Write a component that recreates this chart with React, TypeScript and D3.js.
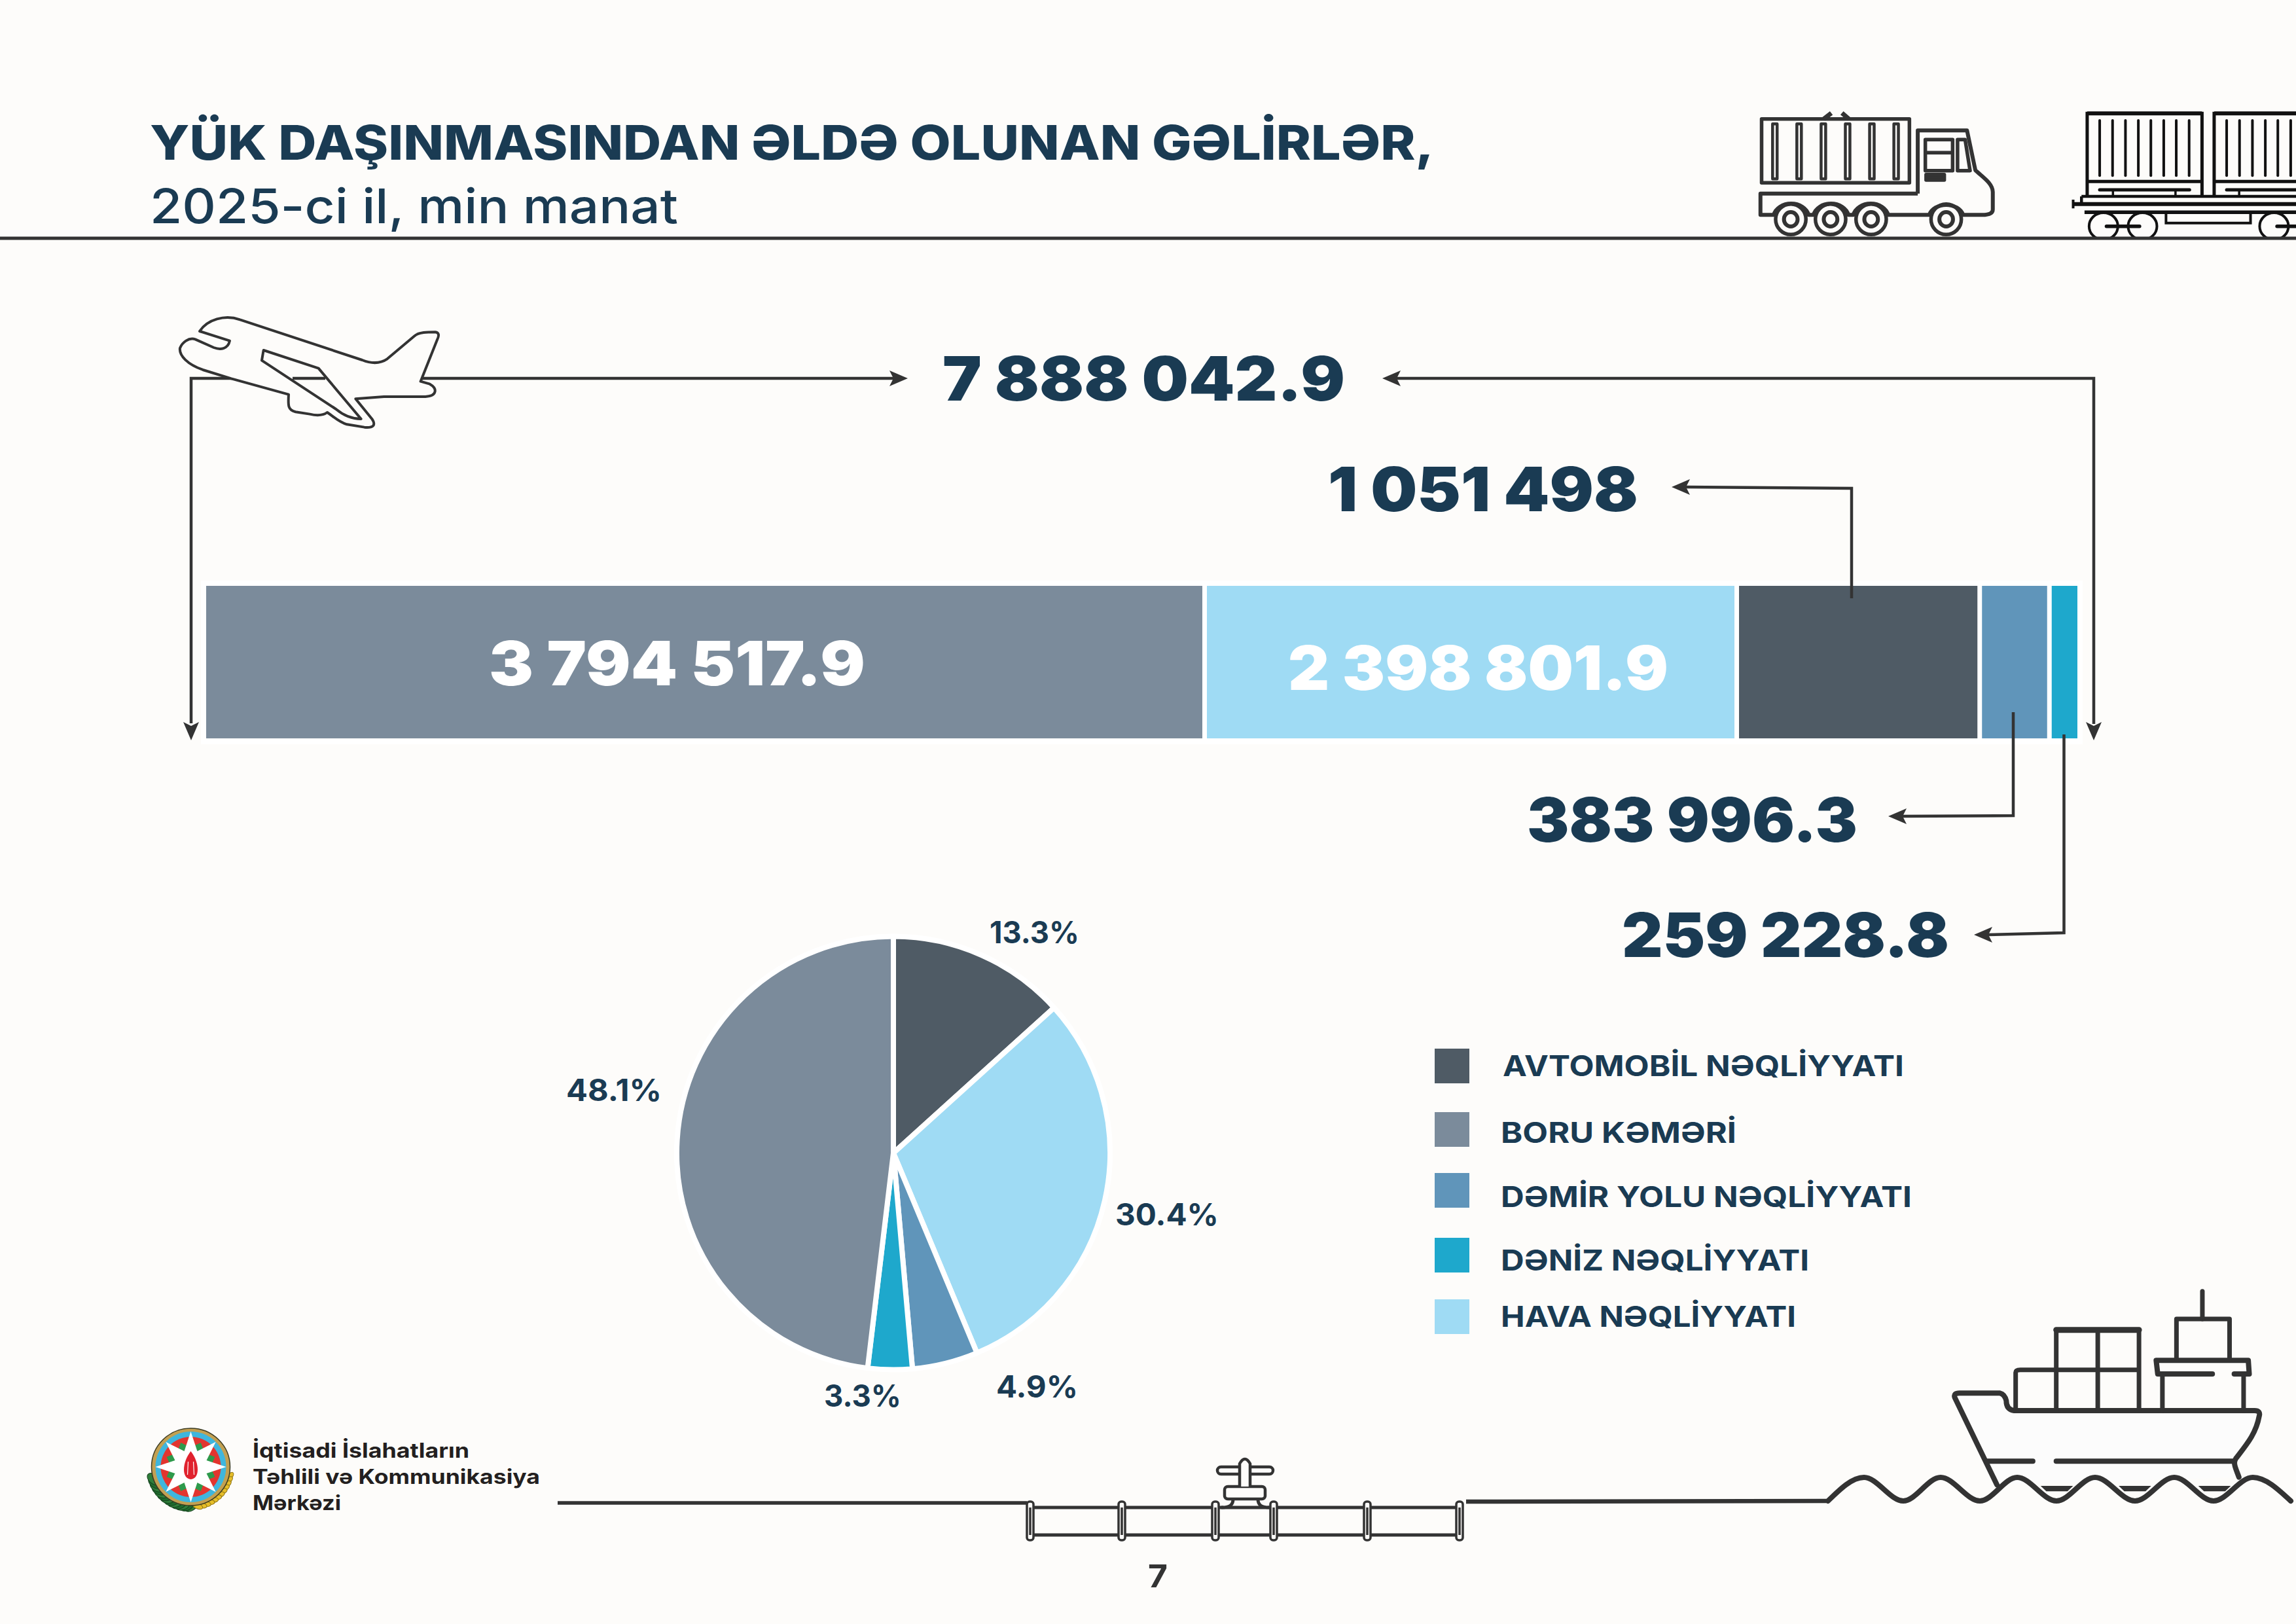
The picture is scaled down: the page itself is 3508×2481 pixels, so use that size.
import React from "react";
import * as d3 from "d3";

const categories = ["AVTOMOBİL NƏQLİYYATI", "BORU KƏMƏRİ", "DƏMİR YOLU NƏQLİYYATI", "DƏNİZ NƏQLİYYATI", "HAVA NƏQLİYYATI"];
const revenues = [1051498, 3794517.9, 383996.3, 259228.8, 2398801.9];
const shares = [13.3, 48.1, 4.9, 3.3, 30.4];
const colours = ["#4F5B65", "#7B8B9B", "#6095BA", "#1EA8CC", "#9FDBF4"];
const pieOrder = [0, 4, 2, 3, 1];
const totalRevenue = 7888042.9;
const titleLines = ["YÜK DAŞINMASINDAN ƏLDƏ OLUNAN GƏLİRLƏR,", "2025-ci il, min manat"];
const orgLines = ["İqtisadi İslahatların", "Təhlili və Kommunikasiya", "Mərkəzi"];
const pageNumber = "7";

const BG = "#FDFCFA";
const NAVY = "#1A3B53";
const INK = "#333333";
const FONT = "Inter, 'Noto Sans', sans-serif";

const fmtLocale = d3.formatLocale({ decimal: ".", thousands: " ", grouping: [3], currency: ["", ""] });
const fmtNum = fmtLocale.format(",.1~f");

// bar layout (the reference's bar is hand-drawn, its segments are not strictly proportional)
const barOrder = d3.range(revenues.length).sort((a, b) => revenues[b] - revenues[a]);
const cumulative = [0, ...d3.cumsum(barOrder.map((i) => revenues[i]))];
const barX = d3.scaleLinear().domain(cumulative).range([315, 1840.5, 2653.5, 3024.75, 3131.25, 3174]);
const barY = d3.scaleBand().domain(["bar"]).range([895, 1128]);

const barLabelLayout = {
  1: { x: 747, w: 575, y: 1047, fill: "#FFFFFF" },
  4: { x: 1968, w: 581, y: 1054, fill: "#FFFFFF" },
  0: { x: 2029, w: 474, y: 781, fill: NAVY },
  2: { x: 2333, w: 505, y: 1286, fill: NAVY },
  3: { x: 2478, w: 500, y: 1462, fill: NAVY },
};
const pieLabelLayout = {
  0: { x: 1512, w: 137, y: 1441 },
  1: { x: 865, w: 146, y: 1682 },
  2: { x: 1522, w: 125, y: 2135 },
  3: { x: 1259, w: 118, y: 2149 },
  4: { x: 1704, w: 158, y: 1872 },
};
const legendLayout = [
  { top: 1602, base: 1644, left: 2296, right: 2909 },
  { top: 1699, base: 1746, left: 2293, right: 2653 },
  { top: 1792, base: 1844, left: 2293, right: 2921 },
  { top: 1891, base: 1941, left: 2293, right: 2764 },
  { top: 1985, base: 2027, left: 2293, right: 2744 },
];

const T = ({ x, y, w, size, weight = 700, fill = NAVY, children }: any) => (
  <text x={x} y={y} textLength={w} lengthAdjust="spacingAndGlyphs" fontFamily={FONT} fontSize={size} fontWeight={weight} fill={fill}>
    {children}
  </text>
);

const ARROW_ROT: any = { left: 0, down: -90, right: 180 };
const Arrow = ({ x, y, dir }: any) => (
  <path transform={`translate(${x},${y}) rotate(${ARROW_ROT[dir]})`} d="M0 0 L28 -12 L22 0 L28 12 Z" fill={INK} />
);

const Plane = () => (
  <g transform="translate(220,450) scale(0.3333)" fill={BG} stroke={INK} strokeWidth={12} strokeLinejoin="round">
    <path d="M255 168 C290 115 370 90 440 115 L1000 300 C1050 320 1090 312 1115 295 L1240 190 C1260 172 1300 172 1335 172 C1355 175 1352 190 1345 205 L1268 398 L1310 410 C1345 430 1345 465 1290 468 L1100 468 L970 478 L1045 570 C1065 600 1050 612 1010 608 L930 595 C895 585 870 560 840 540 C820 555 790 555 760 548 L695 538 C660 530 660 510 663 458 L400 385 L270 345 C200 320 160 280 165 245 C175 220 205 195 235 205 L320 243 C350 255 385 250 393 212 Z" />
    <path d="M548 255 L800 338 L995 570 C950 570 910 550 880 525 L540 302 Z" fill="none" />
  </g>
);

const NS = { vectorEffect: "non-scaling-stroke" } as any;

const truckWheels = [235, 340, 447, 645];
const truckSlats = [193, 257, 321, 385, 449, 513];
const Truck = () => (
  <g transform="translate(2600,130) scale(0.5791,0.3333)" fill="none" stroke={INK} strokeWidth={5.5} strokeLinejoin="round">
    <rect x={158} y={155} width={390} height={293} {...NS} />
    {truckSlats.map((x) => (
      <rect key={x} x={x - 6} y={178} width={12} height={252} strokeWidth={4.5} {...NS} />
    ))}
    <path d="M322 155 L342 128 M388 155 L370 128" strokeWidth={7} {...NS} />
    <path d="M570 497 L570 208 L700 208 L722 390 C740 420 768 450 768 490 L768 570 C768 590 755 595 740 595 L690 595 A47 65 0 0 0 600 595 L492 595 A47 65 0 0 0 400 595 L387 595 A47 65 0 0 0 295 595 L282 595 A47 65 0 0 0 190 595 L155 595 L155 497 L570 497" strokeWidth={6} {...NS} />
    <rect x={590} y={250} width={72} height={142} {...NS} />
    <path d="M590 310 L662 310" {...NS} />
    <path d="M675 250 L695 250 L708 392 L675 392 Z" {...NS} />
    <rect x={592} y={410} width={48} height={25} fill={INK} {...NS} />
    {truckWheels.map((x) => (
      <g key={x}>
        <ellipse cx={x} cy={615} rx={40} ry={70} {...NS} />
        <ellipse cx={x} cy={615} rx={18} ry={33} strokeWidth={6} {...NS} />
      </g>
    ))}
  </g>
);

const trainSlatsA = [1050, 1084, 1118, 1152, 1185, 1219, 1252, 1286];
const trainSlatsB = [1385, 1419, 1453, 1487, 1520, 1554];
const Train = () => (
  <g clipPath="url(#trainClip)">
    <g transform="translate(2600,130) scale(0.5791,0.3333)" fill="none" stroke="#111111" strokeWidth={5}>
      <path d="M1017 510 L1017 130 L1320 130 L1320 510 M1352 510 L1352 130 L1600 130" {...NS} />
      <path d="M1017 130 L1320 130 M1352 130 L1600 130" strokeWidth={6} {...NS} />
      <path d="M1017 442 L1320 442 M1352 442 L1600 442" {...NS} />
      {[...trainSlatsA, ...trainSlatsB].map((x) => (
        <path key={x} d={`M${x} 162 L${x} 415`} strokeWidth={4} strokeLinecap="round" {...NS} />
      ))}
      <path d="M1050 480 L1287 480 M1385 480 L1600 480" strokeWidth={5} strokeLinecap="round" {...NS} />
      <path d="M1085 480 L1085 510 M1250 480 L1250 510 M1418 480 L1418 510" strokeWidth={3.5} {...NS} />
      <path d="M1002 510 L1600 510 M1002 510 L1002 545" strokeWidth={4.5} {...NS} />
      <path d="M980 545 L1600 545" strokeWidth={6} {...NS} />
      <path d="M980 525 L980 565" strokeWidth={4} {...NS} />
      <path d="M1010 583 L1600 583" strokeWidth={5.5} {...NS} />
      <path d="M1225 590 L1225 632 L1448 632 L1448 590" strokeWidth={4} {...NS} />
      {[1060, 1163, 1510].map((x) => (
        <ellipse key={x} cx={x} cy={647} rx={38} ry={62} strokeWidth={4} {...NS} />
      ))}
      <path d="M1068 647 L1155 647 M1518 647 L1600 647" strokeWidth={5.5} strokeLinecap="round" {...NS} />
    </g>
  </g>
);

const Ship = () => (
  <g transform="translate(2760,1940) scale(0.4771,0.3333)" fill="none" stroke={INK} strokeWidth={8} strokeLinejoin="round" strokeLinecap="round">
    <path d="M610 985 L475 585 Q470 565 490 565 L620 565 Q635 570 640 600 Q640 640 665 645 L1435 645 Q1455 645 1450 670 C1440 750 1410 800 1375 865 C1365 885 1375 910 1385 950" fill="#FCFCFC" {...NS} />
    <path d="M580 877 L725 877 M800 877 L1370 877" {...NS} />
    <path d="M670 645 L670 470 Q670 458 685 458 L1065 458 M800 645 L800 275 M933 645 L933 275 M1065 645 L1065 275" strokeWidth={7} strokeLinecap="butt" {...NS} />
    <path d="M800 275 L1065 275" strokeWidth={9} {...NS} />
    <path d="M1140 645 L1140 480 M1400 645 L1400 480" strokeWidth={7} {...NS} />
    <path d="M1300 477 L1125 477 L1120 415 L1415 415 L1418 477 L1370 477" strokeWidth={8} {...NS} />
    <path d="M1185 410 L1185 225 L1355 225 L1355 410" strokeWidth={7} {...NS} />
    <path d="M1268 225 L1268 98" strokeWidth={7} {...NS} />
    {[750, 1000, 1255].map((x) => (
      <path key={x} d={`M${x} 990 L${x + 104} 990 L${x + 86} 1015 L${x + 18} 1015 Z`} fill={INK} stroke="none" />
    ))}
  </g>
);

const waveX = [2793, 2848, 2908, 2965, 3025, 3082, 3142, 3201, 3262, 3322, 3382, 3442, 3500];
const waveY = [2293, 2257, 2293, 2257, 2293, 2257, 2293, 2257, 2293, 2257, 2293, 2257, 2293];
const waveLine = d3.line<number>().x((d) => d).y((_, i) => waveY[i]).curve(d3.curveMonotoneX);

const flanges = [1574, 1714, 1857, 1946, 2089, 2230];
const Pipeline = () => (
  <g fill="none" stroke={INK} strokeLinejoin="round">
    <path d="M852 2296 L1569 2296" strokeWidth={5.5} />
    <path d="M2240 2294 L2793 2293" strokeWidth={6.5} />
    <path d="M1574 2303 L2230 2303 M1574 2345 L2230 2345" strokeWidth={5} />
    {flanges.map((x) => (
      <g key={x}>
        <rect x={x - 5} y={2294} width={10} height={59} rx={4} fill={BG} strokeWidth={3.5} />
        <path d={`M${x} 2303 L${x} 2345`} strokeWidth={3.5} />
      </g>
    ))}
    <path d="M1884 2290 C1884 2300 1878 2303 1866 2303 M1922 2290 C1922 2300 1928 2303 1940 2303" strokeWidth={5} fill={BG} />
    <rect x={1871} y={2271} width={62} height={19} rx={5} fill={BG} strokeWidth={4.5} />
    <rect x={1860} y={2241} width={85} height={11} rx={5.5} fill={BG} strokeWidth={4.5} />
    <path d="M1894 2271 L1894 2236 Q1902 2222 1910 2236 L1910 2271" fill={BG} strokeWidth={4.5} />
  </g>
);

const starPoints = (cx: number, cy: number, R: number, r: number) =>
  d3.range(16).map((i) => {
    const a = (i * Math.PI) / 8 - Math.PI / 2;
    const rad = i % 2 === 0 ? R : r;
    return [cx + rad * Math.cos(a), cy + rad * Math.sin(a)].join(",");
  }).join(" ");

const Emblem = () => {
  const cx = 291.5, cy = 2241;
  const leaf = (deg: number, rad: number) => [cx + rad * Math.cos((deg * Math.PI) / 180), cy + rad * Math.sin((deg * Math.PI) / 180)];
  return (
    <g>
      {d3.range(90, 166, 6).map((a) => {
        const [x, y] = leaf(a, 60);
        return <ellipse key={a} cx={x} cy={y} rx={11} ry={7} fill={a % 12 ? "#2F7D3A" : "#1F6B2E"} stroke="#14401c" strokeWidth={1} transform={`rotate(${a + 60} ${x} ${y})`} />;
      })}
      {d3.range(14, 86, 6).map((a) => {
        const [x, y] = leaf(a, 61);
        return <ellipse key={a} cx={x} cy={y} rx={8} ry={4} fill="#E6BE2A" stroke="#8F7412" strokeWidth={1} transform={`rotate(${a + 120} ${x} ${y})`} />;
      })}
      <ellipse cx={cx} cy={cy} rx={60} ry={59} fill="#C2A052" stroke="#3a3a22" strokeWidth={1.5} />
      <circle cx={cx} cy={cy} r={54} fill="#3FB6DD" />
      <circle cx={cx} cy={cy} r={46} fill="#E2352F" />
      <polygon points={starPoints(cx, cy, 40, 30)} fill="#2E9A4C" transform={`rotate(22.5 ${cx} ${cy})`} />
      <polygon points={starPoints(cx, cy, 54, 26)} fill="#FFFFFF" />
      <path d={`M${cx} ${cy - 24} C${cx + 14} ${cy - 6} ${cx + 14} ${cy + 18} ${cx} ${cy + 19} C${cx - 14} ${cy + 18} ${cx - 14} ${cy - 6} ${cx} ${cy - 24} Z`} fill="#E0222E" />
      <path d={`M${cx - 4} ${cy - 8} L${cx - 5} ${cy + 12} M${cx + 4} ${cy - 8} L${cx + 5} ${cy + 12}`} stroke="#FFFFFF" strokeWidth={1.2} fill="none" />
    </g>
  );
};

export default function App() {
  const pieData = pieOrder.map((i) => ({ i, v: shares[i] }));
  const arcs = d3.pie<any>().value((d) => d.v).sort(null)(pieData);
  const arcGen = d3.arc<any>().innerRadius(0).outerRadius(331);
  const segCentre = (i: number) => {
    const pos = barOrder.indexOf(i);
    return { a: barX(cumulative[pos]), b: barX(cumulative[pos + 1]) };
  };
  const top = barY("bar") as number;
  const h = barY.bandwidth();
  const n = barOrder.length;

  return (
    <svg width={3508} height={2481} viewBox="0 0 3508 2481" style={{ position: "absolute", left: 0, top: 0, display: "block" }}>
      <defs>
        <clipPath id="trainClip"><rect x={3100} y={100} width={408} height={264} /></clipPath>
      </defs>
      <rect width={3508} height={2481} fill={BG} />

      <T x={229} y={244} w={1962} size={73} weight={800}>{titleLines[0]}</T>
      <T x={229} y={341} w={807} size={73} weight={500}>{titleLines[1]}</T>

      <Truck />
      <Train />
      <rect x={0} y={361.5} width={3508} height={5} fill={INK} />

      {/* stacked bar, white halo first */}
      <rect x={307} y={887} width={2875} height={250} fill="#FFFFFF" />
      {barOrder.map((i, k) => {
        const { a, b } = segCentre(i);
        const x0 = k === 0 ? a : a + 3.5;
        const x1 = k === n - 1 ? b : b - 3.5;
        return <rect key={i} x={x0} y={top} width={x1 - x0} height={h} fill={colours[i]} />;
      })}

      {/* connectors */}
      <g fill="none" stroke={INK} strokeWidth={4.5}>
        <path d="M1365 578 L292 578 L292 1105" />
        <path d="M2130 578 L3199 578 L3199 1106" />
        <path d="M2575 744 L2829 746 L2829 914" />
        <path d="M3076 1088 L3076 1246 L2905 1247" />
        <path d="M3153.5 1122 L3153.5 1425 L3036 1428" />
      </g>
      <Plane />
      <path d="M447 578 L497 578" stroke={INK} strokeWidth={4.5} />

      <Arrow x={1387} y={578} dir="right" />
      <Arrow x={2112} y={578} dir="left" />
      <Arrow x={2554} y={744} dir="left" />
      <Arrow x={2885} y={1247} dir="left" />
      <Arrow x={3016} y={1428} dir="left" />
      <Arrow x={292} y={1131} dir="down" />
      <Arrow x={3199} y={1131} dir="down" />

      <T x={1440} y={612} w={615} size={94} weight={900}>{fmtNum(totalRevenue)}</T>
      {revenues.map((v, i) => {
        const l = (barLabelLayout as any)[i];
        return <T key={i} x={l.x} y={l.y} w={l.w} size={94} weight={900} fill={l.fill}>{fmtNum(v)}</T>;
      })}

      {/* pie */}
      <g transform="translate(1365,1761.5)">
        {arcs.map((d: any) => (
          <path key={d.data.i} d={arcGen(d) || ""} fill={colours[d.data.i]} stroke="#FFFFFF" strokeWidth={8} strokeLinejoin="round" />
        ))}
      </g>
      {shares.map((s, i) => {
        const l = (pieLabelLayout as any)[i];
        return <T key={i} x={l.x} y={l.y} w={l.w} size={46} weight={700}>{`${s}%`}</T>;
      })}

      {/* legend */}
      {categories.map((c, i) => (
        <g key={c}>
          <rect x={2192} y={legendLayout[i].top} width={53} height={53} fill={colours[i]} />
          <T x={legendLayout[i].left} y={legendLayout[i].base} w={legendLayout[i].right - legendLayout[i].left} size={44} weight={700}>{c}</T>
        </g>
      ))}

      {/* footer */}
      <Emblem />
      <T x={386} y={2227} w={331} size={31} weight={700} fill="#231F20">{orgLines[0]}</T>
      <T x={386} y={2267} w={439} size={31} weight={700} fill="#231F20">{orgLines[1]}</T>
      <T x={386} y={2307} w={135} size={31} weight={700} fill="#231F20">{orgLines[2]}</T>
      <Pipeline />
      <Ship />
      <path d={waveLine(waveX) || ""} fill="none" stroke={INK} strokeWidth={8} strokeLinecap="round" />
      <T x={1754} y={2425} w={30} size={48} weight={700} fill={INK}>{pageNumber}</T>
    </svg>
  );
}
